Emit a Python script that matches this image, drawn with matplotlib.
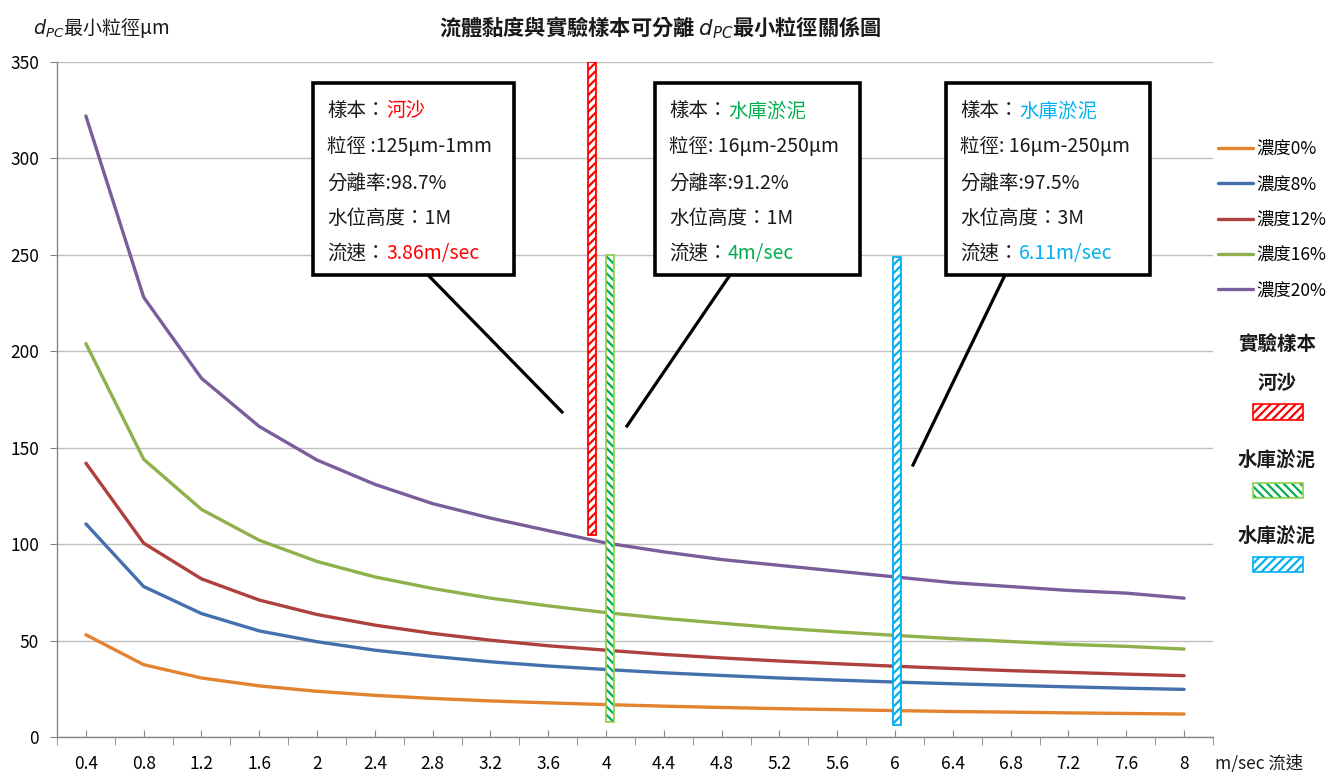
import matplotlib
matplotlib.use("Agg")
import matplotlib.pyplot as plt
from matplotlib.patches import Rectangle
from matplotlib.lines import Line2D
import numpy as np

plt.rcParams['font.family'] = ['Noto Sans CJK TC', 'DejaVu Sans']
plt.rcParams['hatch.linewidth'] = 1.6

# ---------------- data ----------------
speeds = [0.4, 0.8, 1.2, 1.6, 2.0, 2.4, 2.8, 3.2, 3.6, 4.0,
          4.4, 4.8, 5.2, 5.6, 6.0, 6.4, 6.8, 7.2, 7.6, 8.0]
tick_labels = ['0.4', '0.8', '1.2', '1.6', '2', '2.4', '2.8', '3.2', '3.6', '4',
               '4.4', '4.8', '5.2', '5.6', '6', '6.4', '6.8', '7.2', '7.6', '8']
conc_0 = [53, 37.5, 30.6, 26.5, 23.7, 21.6, 20.0, 18.7, 17.7, 16.8,
          16.0, 15.3, 14.7, 14.2, 13.7, 13.2, 12.9, 12.5, 12.2, 11.9]
conc_8 = [110.5, 78, 64, 55, 49.4, 45, 41.8, 39, 36.8, 35,
          33.3, 31.9, 30.6, 29.5, 28.5, 27.6, 26.8, 26, 25.3, 24.7]
conc_12 = [142, 100.5, 82, 71, 63.5, 58, 53.7, 50.2, 47.3, 45,
           42.8, 41, 39.4, 38, 36.7, 35.5, 34.4, 33.5, 32.6, 31.8]
conc_16 = [204, 144, 118, 102, 91, 83, 77, 72, 68, 64.5,
           61.5, 59, 56.5, 54.5, 52.7, 51, 49.5, 48, 47, 45.6]
conc_20 = [322, 228, 186, 161, 143.6, 131, 121, 113.5, 107, 100.6,
           96, 92, 89, 86, 83, 80, 78, 76, 74.6, 72]
series_names = ['濃度0%', '濃度8%', '濃度12%', '濃度16%', '濃度20%']
series_vals = [conc_0, conc_8, conc_12, conc_16, conc_20]
series_colors = ['#E3822F', '#4470AE', '#AE403D', '#8EB14B', '#7A5E9C']

# experiment sample bars (x, bottom, top)
sample_names = ['河沙', '水庫淤泥', '水庫淤泥']
sample_x = [3.9, 4.03, 6.01]
sample_bottom = [105, 8, 6]
sample_top = [350, 250, 249]
sample_hatch_color = ['#FF0000', '#00B050', '#00B0F0']
sample_edge_color = ['#FF0000', '#92D050', '#00B0F0']
sample_hatch = ['////', '\\\\\\\\', '////']

box_lines = [
    ('樣本：', '河沙', '粒徑 :125μm-1mm', '分離率:98.7%', '水位高度：1M', '流速：', '3.86m/sec'),
    ('樣本：', '水庫淤泥', '粒徑: 16μm-250μm', '分離率:91.2%', '水位高度：1M', '流速：', '4m/sec'),
    ('樣本：', '水庫淤泥', '粒徑: 16μm-250μm', '分離率:97.5%', '水位高度：3M', '流速：', '6.11m/sec'),
]

# ---------------- figure ----------------
W, H = 1331, 772
fig = plt.figure(figsize=(W / 100, H / 100), dpi=100)
fig.patch.set_facecolor('white')
fx = lambda px: px / W
fy = lambda py: 1 - py / H

ax = fig.add_axes([fx(57), fy(737), fx(1213) - fx(57), fy(62) - fy(737)])
ax.set_xlim(0.2, 8.2)
ax.set_ylim(0, 350)

ax.yaxis.grid(True, color='#BFBFBF', lw=1.0)
ax.set_axisbelow(True)
for s in ['top', 'right']:
    ax.spines[s].set_visible(False)
for s in ['left', 'bottom']:
    ax.spines[s].set_color('#868686')
    ax.spines[s].set_linewidth(1.0)

ax.set_yticks(np.arange(0, 351, 50))
ax.tick_params(axis='y', direction='out', length=5, color='#868686', labelsize=12.5, pad=8)
ax.set_xticks(speeds)
ax.set_xticklabels(tick_labels)
ax.set_xticks(np.arange(0.2, 8.21, 0.4), minor=True)
ax.tick_params(axis='x', which='major', direction='in', length=5, color='#868686',
               labelsize=12.5, pad=13)
ax.tick_params(axis='x', which='minor', direction='out', length=6, color='#868686')

handles = []
for name, vals, c in zip(series_names, series_vals, series_colors):
    h, = ax.plot(speeds, vals, color=c, lw=2.4, label=name, solid_capstyle='round')
    handles.append(h)

bar_w = 0.055
for x, b, t, hc, ec, hp in zip(sample_x, sample_bottom, sample_top,
                               sample_hatch_color, sample_edge_color, sample_hatch):
    ax.bar(x, t - b, bottom=b, width=bar_w, color='white', edgecolor=hc,
           hatch=hp, linewidth=0, zorder=3)
    ax.bar(x, t - b, bottom=b, width=bar_w, fill=False, edgecolor=ec,
           linewidth=1.3, zorder=3)

leg = ax.legend(handles=handles, loc='upper left', bbox_to_anchor=(fx(1218), fy(140)),
                bbox_transform=fig.transFigure, frameon=False, fontsize=12.5,
                handlelength=2.0, handletextpad=0.2, labelspacing=1.0,
                borderaxespad=0, borderpad=0)

# titles
fig.text(fx(660), fy(28), '流體黏度與實驗樣本可分離 $d_{PC}$最小粒徑關係圖',
         ha='center', va='center', fontsize=15.3, fontweight='bold', color='#1a1a1a')
fig.text(fx(33), fy(28), '$d_{PC}$最小粒徑μm', ha='left', va='center', fontsize=13.8,
         color='#1a1a1a')
fig.text(fx(1215), fy(763), 'm/sec 流速', ha='left', va='center', fontsize=12.5,
         color='#1a1a1a')

# sample legend
fig.text(fx(1277), fy(345), '實驗樣本', ha='center', va='center', fontsize=14,
         fontweight='bold', color='#1a1a1a')
leg_rows = [(383, 404, 420), (461, 483, 498), (537, 557, 572)]
for name, (ty, py0, py1), hc, ec, hp in zip(sample_names, leg_rows, sample_hatch_color,
                                            sample_edge_color, sample_hatch):
    fig.text(fx(1277), fy(ty), name, ha='center', va='center', fontsize=14,
             fontweight='bold', color='#1a1a1a')
    r = Rectangle((fx(1253), fy(py1)), fx(1303) - fx(1253), fy(py0) - fy(py1),
                  transform=fig.transFigure, facecolor='white', edgecolor=hc,
                  hatch=hp, linewidth=0)
    fig.add_artist(r)
    r2 = Rectangle((fx(1253), fy(py1)), fx(1303) - fx(1253), fy(py0) - fy(py1),
                   transform=fig.transFigure, fill=False, edgecolor=ec, linewidth=1.2)
    fig.add_artist(r2)

# annotation boxes
box_left = [313, 655, 946]
box_right = [514, 860, 1150]
box_top, box_bot = 83, 275
leader = [((428, 275), (562, 412)), ((730, 275), (627, 426)), ((1005, 275), (913, 465))]
row_y = [111, 146, 183, 218, 253]
for i, (bl, br) in enumerate(zip(box_left, box_right)):
    (p0, p1) = leader[i]
    fig.add_artist(Line2D([fx(p0[0]), fx(p1[0])], [fy(p0[1]), fy(p1[1])],
                          transform=fig.transFigure, color='black', lw=2.3, zorder=4))
    fig.add_artist(Rectangle((fx(bl), fy(box_bot)), fx(br) - fx(bl), fy(box_top) - fy(box_bot),
                             transform=fig.transFigure, facecolor='white',
                             edgecolor='black', linewidth=2.6, zorder=5))
    lines = box_lines[i]
    col = sample_hatch_color[i]
    tx = fx(bl + 14)
    tx2 = fx(bl + 73)
    kw = dict(ha='left', va='center', fontsize=14, color='#1a1a1a', zorder=6)
    fig.text(tx, fy(row_y[0]), lines[0], **kw)
    fig.text(tx2, fy(row_y[0]), lines[1], **{**kw, 'color': col})
    fig.text(tx, fy(row_y[1]), lines[2], **kw)
    fig.text(tx, fy(row_y[2]), lines[3], **kw)
    fig.text(tx, fy(row_y[3]), lines[4], **kw)
    fig.text(tx, fy(row_y[4]), lines[5], **kw)
    fig.text(tx2, fy(row_y[4]), lines[6], **{**kw, 'color': col})

fig.savefig('out.png', dpi=100, facecolor='white')
